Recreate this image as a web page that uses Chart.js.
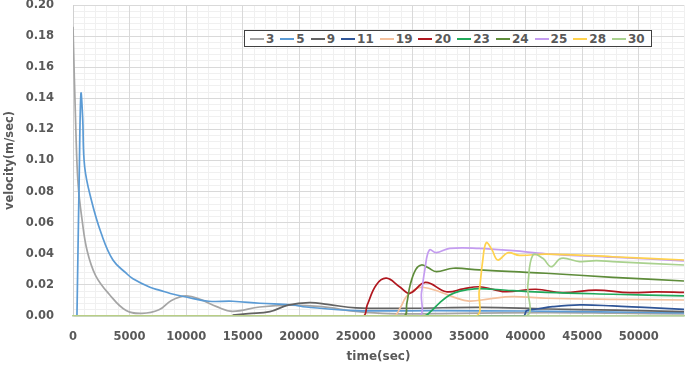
<!DOCTYPE html>
<html>
<head>
<meta charset="utf-8">
<script src="https://cdn.jsdelivr.net/npm/chart.js@4.4.1/dist/chart.umd.min.js"></script>
<style>
  html, body { margin: 0; padding: 0; background: #fff; }
  #wrap { position: relative; width: 685px; height: 368px; }
  #legend {
    position: absolute; left: 244px; top: 30px; width: 401px; height: 15px;
    border: 1px solid #404040; background: #fff;
    display: flex; align-items: center; padding-left: 5px; box-sizing: content-box;
    font: bold 12px "DejaVu Sans", sans-serif; color: #595959; white-space: nowrap;
  }
  .item { display: flex; align-items: center; margin-right: 6px; }
  .sw { width: 14px; height: 2px; margin-right: 2px; }
</style>
</head>
<body>
<div id="wrap">
  <canvas id="c" width="685" height="368"></canvas>
  <div id="legend"></div>
</div>
<script>
// ---- data (time in sec, velocity in m/sec) ----
const seriesNames = ["3", "5", "9", "11", "19", "20", "23", "24", "25", "28", "30"];
const seriesColors = ["#a5a5a5", "#5b9bd5", "#636363", "#2f5597", "#f4c09c", "#b0171f", "#20a95a", "#5e8c3a", "#c49cf0", "#ffd24d", "#a9d18e"];

const s3 = [[0,0.186],[250,0.12],[450,0.085],[800,0.062],[1250,0.042],[2000,0.026],[3200,0.014],[4700,0.0035],[6100,0.0017],[7600,0.004],[8700,0.010],[10000,0.0129],[11300,0.0105],[12700,0.006],[14100,0.003],[16500,0.0058],[19200,0.007],[22000,0.006],[25000,0.003],[28000,0.0015],[34000,0.0017],[42000,0.0022],[48000,0.0018],[54000,0.0013]];
const s5 = [[350,0],[550,0.09],[700,0.143],[850,0.128],[1030,0.096],[1620,0.0746],[2500,0.053],[3530,0.036],[4700,0.0275],[5300,0.024],[6800,0.0185],[7700,0.0165],[8600,0.0145],[10000,0.0122],[12000,0.0095],[14100,0.0095],[16500,0.0082],[19400,0.0071],[20600,0.0058],[25000,0.0035],[32000,0.0034],[40000,0.0032],[45000,0.0028],[54000,0.002]];
const s9 = [[14100,0.0006],[15500,0.0015],[17400,0.0028],[19000,0.007],[20900,0.0086],[22500,0.0075],[25000,0.0052],[30000,0.005],[36000,0.0056],[42000,0.0045],[48000,0.0038],[54000,0.0028]];
const s11 = [[0,0],[39800,0],[40100,0.0035],[41000,0.0045],[42400,0.006],[44800,0.0071],[47700,0.0065],[50500,0.0055],[54000,0.0043]];
const s19 = [[0,0],[28300,0],[28900,0.005],[29450,0.0124],[30200,0.017],[30900,0.0185],[32400,0.0156],[33700,0.012],[35000,0.0096],[36800,0.011],[38800,0.0124],[41800,0.0114],[47700,0.0107],[54000,0.0103]];
const s20 = [[0,0],[25600,0],[26000,0.007],[26800,0.02],[27700,0.0243],[28860,0.0188],[29750,0.0146],[31150,0.0216],[33000,0.0156],[34500,0.0175],[35900,0.0188],[37200,0.017],[38300,0.0156],[40900,0.0172],[43300,0.015],[46200,0.0167],[49200,0.015],[51500,0.0155],[54000,0.0152]];
const s23 = [[0,0],[31000,0],[31600,0.0028],[32400,0.0085],[33300,0.0135],[34200,0.016],[35500,0.0175],[37000,0.0172],[38900,0.0163],[41800,0.0152],[47700,0.014],[54000,0.0129]];
const s24 = [[0,0],[29200,0],[29500,0.008],[29800,0.02],[30300,0.03],[30800,0.0328],[31400,0.031],[32100,0.0285],[33600,0.0307],[35900,0.0296],[38900,0.0285],[41800,0.0275],[47700,0.0249],[54000,0.0225]];
const s25 = [[0,0],[30450,0],[30800,0.015],[31100,0.03],[31500,0.0424],[32100,0.0407],[33300,0.0435],[35900,0.0435],[38900,0.042],[41800,0.04],[47700,0.0378],[54000,0.0355]];
const s28 = [[0,0],[35500,0],[35900,0.016],[36200,0.035],[36520,0.0471],[37000,0.043],[37540,0.036],[38430,0.0407],[39460,0.039],[41800,0.0398],[47700,0.0381],[54000,0.036]];
const s30 = [[0,0],[39900,0],[40200,0.02],[40640,0.0392],[41520,0.0371],[42260,0.0317],[43140,0.0371],[44770,0.035],[46240,0.0356],[47700,0.035],[54000,0.0328]];
const seriesData = [s3, s5, s9, s11, s19, s20, s23, s24, s25, s28, s30];

// tick labels
const xTickValues = [0, 5000, 10000, 15000, 20000, 25000, 30000, 35000, 40000, 45000, 50000];
const yTickValues = [0, 0.02, 0.04, 0.06, 0.08, 0.10, 0.12, 0.14, 0.16, 0.18, 0.20];
const xMax = 54000, yMax = 0.2;
const xMinorStep = 1000, yMinorStep = 0.004;

// ---- chart ----
const tickFont = { family: "DejaVu Sans", size: 11.5, weight: "bold" };
const xTitleFont = { family: "DejaVu Sans", size: 12, weight: "bold" };
const yTitleFont = { family: "DejaVu Sans", size: 11.5, weight: "bold" };
const datasets = seriesData.map((pts, i) => ({
  label: seriesNames[i],
  data: pts.map(p => ({ x: p[0], y: p[1] })),
  borderColor: seriesColors[i],
  backgroundColor: seriesColors[i],
  borderWidth: 1.7,
  pointRadius: 0,
  showLine: true,
  tension: 0.4,
  fill: false,
  order: -i,
  xAxisID: "x",
  yAxisID: "y"
}));

function stepTicks(max, step) {
  const out = [];
  const n = Math.round(max / step);
  for (let k = 0; k <= n; k++) out.push({ value: k * step });
  return out;
}

new Chart(document.getElementById("c"), {
  type: "scatter",
  data: { datasets },
  options: {
    responsive: false,
    animation: false,
    events: [],
    layout: { padding: { top: 5, right: 1, left: 0, bottom: 0 } },
    plugins: { legend: { display: false }, tooltip: { enabled: false } },
    scales: {
      xMinor: {
        type: "linear", position: "bottom", min: 0, max: xMax,
        afterBuildTicks: s => { s.ticks = stepTicks(xMax, xMinorStep); },
        ticks: { display: false, autoSkip: false },
        grid: { color: "#f0f0f0", drawTicks: false, z: -2 },
        border: { display: false },
        afterFit: s => { s.height = 0; s.paddingLeft = 0; s.paddingRight = 0; }
      },
      yMinor: {
        type: "linear", position: "left", min: 0, max: yMax,
        afterBuildTicks: s => { s.ticks = stepTicks(yMax, yMinorStep); },
        ticks: { display: false, autoSkip: false },
        grid: { color: "#f0f0f0", drawTicks: false, z: -2 },
        border: { display: false },
        afterFit: s => { s.width = 0; s.paddingTop = 0; s.paddingBottom = 0; }
      },
      x: {
        type: "linear", position: "bottom", min: 0, max: xMax,
        afterBuildTicks: s => { s.ticks = xTickValues.map(v => ({ value: v })); },
        ticks: {
          padding: 14, color: "#595959", font: tickFont, maxRotation: 0, minRotation: 0, autoSkip: false,
          callback: v => String(v)
        },
        grid: { color: "#d9d9d9", drawTicks: false, z: -1 },
        border: { color: "#b5d39a", width: 1.5 },
        title: { display: true, text: "time(sec)", color: "#595959", font: xTitleFont, padding: { top: 4, bottom: 4 } },
        afterFit: s => { s.height = 52; s.paddingLeft = 0; s.paddingRight = 0; }
      },
      y: {
        type: "linear", position: "left", min: 0, max: yMax,
        afterBuildTicks: s => { s.ticks = yTickValues.map(v => ({ value: v })); },
        ticks: {
          padding: 19, color: "#595959", font: tickFont, autoSkip: false,
          callback: v => Number(v).toFixed(2)
        },
        grid: { color: "#d9d9d9", drawTicks: false, z: -1 },
        border: { color: "#d0d0d0" },
        title: { display: true, text: "velocity(m/sec)", color: "#595959", font: yTitleFont, padding: { top: 3, bottom: 3 } },
        afterFit: s => { s.width = 73; s.paddingTop = 0; s.paddingBottom = 0; }
      }
    }
  }
});

// ---- legend (HTML) ----
const lg = document.getElementById("legend");
seriesNames.forEach((n, i) => {
  const it = document.createElement("div");
  it.className = "item";
  const sw = document.createElement("span");
  sw.className = "sw";
  sw.style.background = seriesColors[i];
  const tx = document.createElement("span");
  tx.textContent = n;
  it.appendChild(sw);
  it.appendChild(tx);
  lg.appendChild(it);
});
</script>
</body>
</html>
